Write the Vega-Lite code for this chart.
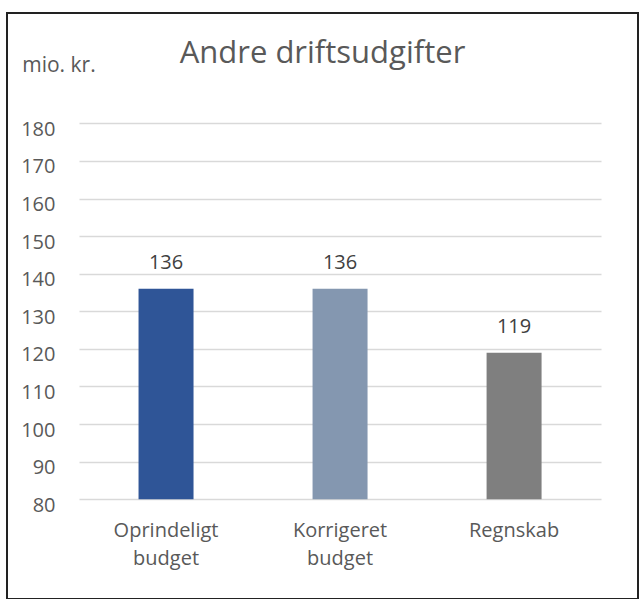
{
  "$schema": "https://vega.github.io/schema/vega-lite/v6.json",
  "width": 631,
  "height": 586,
  "autosize": {"type": "none"},
  "padding": {"left": 7, "top": 13, "right": 3, "bottom": 0},
  "background": "white",
  "config": {
    "font": "Open Sans",
    "view": {"stroke": "#222222", "strokeWidth": 2}
  },
  "title": {
    "text": "Andre driftsudgifter",
    "anchor": "middle",
    "frame": "group",
    "fontSize": 31,
    "fontWeight": "normal",
    "color": "#595959",
    "baseline": "alphabetic",
    "offset": -81
  },
  "data": {
    "values": [
      {"kategori": "Oprindeligt budget", "vaerdi": 136},
      {"kategori": "Korrigeret budget", "vaerdi": 136},
      {"kategori": "Regnskab", "vaerdi": 119}
    ]
  },
  "encoding": {
    "x": {
      "field": "kategori",
      "type": "nominal",
      "sort": null,
      "scale": {"paddingInner": 0.684, "paddingOuter": 0.655, "align": 0.577},
      "axis": {
        "title": null,
        "orient": "bottom",
        "offset": -99.7,
        "domain": false,
        "ticks": false,
        "tickSize": 0,
        "labelPadding": 21,
        "labelAngle": 0,
        "labelFontSize": 20,
        "labelColor": "#595959",
        "labelExpr": "split(datum.label, ' ')",
        "labelLineHeight": 28,
        "labelBaseline": "top",
        "labelLimit": 0
      }
    },
    "y": {
      "field": "vaerdi",
      "type": "quantitative",
      "scale": {"domain": [53.48, 209.34], "nice": false, "zero": false},
      "axis": {
        "title": "mio. kr.",
        "values": [80, 90, 100, 110, 120, 130, 140, 150, 160, 170, 180],
        "offset": -594,
        "domain": false,
        "grid": false,
        "ticks": true,
        "tickSize": 522,
        "tickColor": "#D9D9D9",
        "tickWidth": 1.5,
        "labelPadding": 24,
        "labelFontSize": 20,
        "labelColor": "#595959",
        "labelBaseline": "alphabetic",
        "labelOffset": 12,
        "labelFlush": false,
        "labelOverlap": false,
        "titleX": -579.3,
        "titleY": 58.7,
        "titleAngle": 0,
        "titleAlign": "left",
        "titleBaseline": "alphabetic",
        "titleFontSize": 21,
        "titleFontWeight": "normal",
        "titleColor": "#595959"
      }
    }
  },
  "layer": [
    {
      "mark": {"type": "bar"},
      "encoding": {
        "y2": {"datum": 80},
        "color": {
          "field": "kategori",
          "type": "nominal",
          "scale": {
            "domain": ["Oprindeligt budget", "Korrigeret budget", "Regnskab"],
            "range": ["#2F5597", "#8497B0", "#7F7F7F"]
          },
          "legend": null
        }
      }
    },
    {
      "mark": {"type": "text", "baseline": "alphabetic", "dy": -19.3, "fontSize": 20, "color": "#404040"},
      "encoding": {
        "text": {"field": "vaerdi", "type": "quantitative"}
      }
    }
  ]
}
